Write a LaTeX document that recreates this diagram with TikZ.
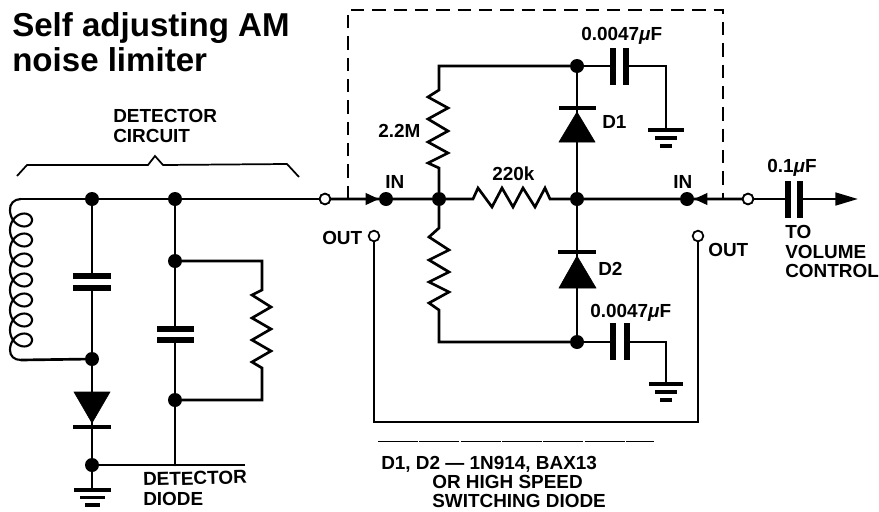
\documentclass[tikz,border=0pt]{standalone}
\usepackage{fontspec}
\setmainfont{Liberation Sans}
\usetikzlibrary{arrows.meta}
\tikzset{
  wire/.style={line width=2pt,line join=miter,line cap=round},
  thin wire/.style={line width=0.8pt},
  plate/.style={line width=3.8pt},
  bar/.style={line width=2.8pt},
  box/.style={line width=0.9pt,dash pattern=on 10pt off 6pt},
  dot/.style={circle,fill=black,inner sep=0pt,minimum size=10.5pt},
  term/.style={circle,draw=black,fill=white,line width=1.3pt,inner sep=0pt,minimum size=8pt},
  lbl/.style={inner sep=0pt,anchor=base west,font=\bfseries\fontsize{14.2}{16}\selectfont},
  ttl/.style={inner sep=0pt,anchor=base west,font=\bfseries\fontsize{24.8}{28}\selectfont},
  diode/.style={fill=black},
}
\newcommand{\uF}{{\itshape μ}F}
\begin{document}
\begin{tikzpicture}[x=0.75pt,y=-0.75pt]
\useasboundingbox (0,0) rectangle (879,511);
\fill[white] (0,0) rectangle (879,511);

% title and labels
\node[ttl] (t1) at (12,36) {Self adjusting AM};
\node[ttl] (t2) at (12,71) {noise limiter};
\node[lbl] (dc1) at (113,122) {DETECTOR};
\node[lbl] (dc2) at (113,142) {CIRCUIT};
\node[lbl,rotate=1.5] (dd1) at (143,486) {DETECTOR};
\node[lbl] (dd2) at (143,505) {DIODE};
\node[lbl] (inl) at (385,188) {IN};
\node[lbl] (outl) at (322,244) {OUT};
\node[lbl] (r1v) at (378,137) {2.2M};
\node[lbl] (r2v) at (492,180) {220k};
\node[lbl] (c1v) at (581,40) {0.0047\uF};
\node[lbl] (d1l) at (602,128) {D1};
\node[lbl] (inr) at (673,188) {IN};
\node[lbl] (c3v) at (767,172) {0.1\uF};
\node[lbl] (outr) at (708,256) {OUT};
\node[lbl] (to1) at (785,238) {TO};
\node[lbl] (to2) at (785,258) {VOLUME};
\node[lbl] (to3) at (785,277) {CONTROL};
\node[lbl] (d2l) at (598,275) {D2};
\node[lbl] (c2v) at (590,317) {0.0047\uF};
\node[lbl] (n1) at (381,469) {D1, D2 — 1N914, BAX13};
\node[lbl] (n2) at (432,488) {OR HIGH SPEED};
\node[lbl] (n3) at (432,507) {SWITCHING DIODE};

% points of the circuit
\coordinate (ctop) at (21,199);
\coordinate (cbot) at (21,360);
\coordinate (gl) at (92,490);
\coordinate (rp1) at (262,261);
\coordinate (rp2) at (262,400);
\coordinate (tipL) at (379,199);
\coordinate (tipR) at (694,199);
\coordinate (outtip) at (858,199);
\coordinate (r1top) at (439,66);
\coordinate (r2bot) at (439,342);
\coordinate (g1c) at (666,66);
\coordinate (g1) at (666,130);
\coordinate (g2c) at (666,342);
\coordinate (g2) at (666,384);
\coordinate (ul) at (374,422);
\coordinate (ur) at (698,422);
\coordinate (boxbl) at (348,199);
\coordinate (boxtl) at (348,10);
\coordinate (boxtr) at (723,10);
\coordinate (boxbr) at (723,199);

\node[dot] (j1) at (92,199) {};
\node[dot] (j2) at (175,199) {};
\node[dot] (j3) at (92,359) {};
\node[dot] (j4) at (175,261) {};
\node[dot] (j5) at (175,400) {};
\node[dot] (j6) at (92,465) {};
\node[dot] (dinl) at (386,199) {};
\node[dot] (j7) at (439,199) {};
\node[dot] (j8) at (577,199) {};
\node[dot] (dinr) at (687,199) {};
\node[dot] (j9) at (577,66) {};
\node[dot] (j10) at (577,342) {};

% dashed box
\draw[box] (boxbl) -- (boxtl) -- (boxtr) -- (boxbr);

% bracket and thin rules
\draw[line width=1.3pt] (17,176) -- (27,165) -- (148,165) -- (155,156) -- (163,165) -- (287,164) -- (299,177);
\coordinate (rule1) at (245,465);
\draw[thin wire] (j6) -- (rule1);
\coordinate (rule2a) at (378,441);
\coordinate (rule2b) at (654,441);
\draw[line width=0.7pt,dash pattern=on 30pt off 1pt] (rule2a) -- (rule2b);

% main line
\draw[wire] (ctop) -- (j1) -- (j2) -- (325,199) node[term,pos=1] (t3) {};
\draw[wire] (t3) -- (dinl) -- (j7) -- (473,199)
  -- (478,188) -- (492,207) -- (502,188) -- (513,207) -- (523,188) -- (535,207) -- (545,188) -- (550,199) -- (j8) -- (dinr) -- (748,199) node[term,pos=1] (t4) {};
\draw[-{Triangle[length=10pt,width=8.5pt]},line width=2pt] (365,199) -- (tipL);
\draw[-{Triangle[length=10pt,width=8.5pt]},line width=2pt] (708,199) -- (tipR);
\node[term] at (325,199) {};
\node[term] at (748,199) {};
\coordinate (pc3a) at (788,199);
\coordinate (pc3b) at (800,199);
\draw[wire] (t4) -- (pc3a);
\draw[plate] (788,181) -- (788,218);
\draw[plate] (800,181) -- (800,218);
\draw[wire,-{Triangle[length=17pt,width=9.5pt]}] (pc3b) -- (outtip);

% coil
\draw[wire,line width=1.6pt] (ctop) .. controls (14,199) and (9.5,204) .. (10,210)
  plot[domain=-180:2340,samples=260,smooth,variable=\t]
   ({21+11*cos(\t)},{220+3.183*(\t*pi/180)-11*sin(\t)})
  .. controls (10,356) and (14,360) .. (cbot);
\draw[wire] (cbot) -- (j3);

% left capacitor and detector diode
\draw[wire] (j1) -- (92,275);
\draw[plate] (73,276) -- (111,276);
\draw[plate] (73,288) -- (111,288);
\draw[wire] (92,288) -- (j3) -- (j6) -- (gl);
\draw[diode] (74,392) -- (110,392) -- (92,423) -- cycle;
\draw[bar] (73,427) -- (111,427);
\draw[wire] (j6) -- (175,465);
\draw[bar] (74,490) -- (111,490);
\draw[bar] (80,497.5) -- (105,497.5);
\draw[bar] (85,505) -- (100,505);

% second capacitor and resistor
\draw[wire] (j2) -- (j4) -- (175,329);
\draw[plate] (157,329) -- (194,329);
\draw[plate] (157,340) -- (194,340);
\draw[wire] (175,340) -- (j5) -- (175,465);
\draw[wire] (j4) -- (rp1) -- (262,290) -- (252,295) -- (271,307) -- (252,318) -- (271,329) -- (252,340) -- (271,351) -- (252,362) -- (262,368) -- (rp2) -- (j5);

% upper resistor
\draw[wire] (j7) -- (439,168) -- (428,163) -- (448,153) -- (428,142) -- (448,131) -- (428,119) -- (448,108) -- (428,97) -- (439,90) -- (r1top) -- (j9);
% upper diode
\draw[wire] (j9) -- (j8);
\draw[diode] (559,142) -- (595,142) -- (577,112) -- cycle;
\draw[bar] (559,108) -- (596,108);
% upper capacitor and ground
\draw[wire] (j9) -- (613,66);
\draw[plate] (613,48) -- (613,85);
\draw[plate] (626,48) -- (626,85);
\draw[wire] (626,66) -- (g1c) -- (g1);
\draw[bar] (648,130) -- (684,130);
\draw[bar] (655,138) -- (677,138);
\draw[bar] (660,146) -- (672,146);

% lower resistor
\draw[wire] (j7) -- (439,228) -- (429,237) -- (449,250) -- (429,260) -- (449,272) -- (429,282) -- (449,292) -- (429,303) -- (439,310) -- (r2bot) -- (j10);
% lower diode
\draw[wire] (j8) -- (j10);
\draw[diode] (559,288) -- (596,288) -- (577,256) -- cycle;
\draw[bar] (558,252) -- (596,252);
% lower capacitor and ground
\draw[wire] (j10) -- (613,342);
\draw[plate] (613,323) -- (613,360);
\draw[plate] (627,323) -- (627,360);
\draw[wire] (627,342) -- (g2c) -- (g2);
\draw[bar] (649,384) -- (683,384);
\draw[bar] (655,392) -- (677,392);
\draw[bar] (660,400) -- (672,400);

% out loop
\node[term] (ol) at (374,236) {};
\node[term] (or) at (698,236) {};
\draw[wire] (ol) -- (ul) -- (ur) -- (or);
\end{tikzpicture}
\end{document}
